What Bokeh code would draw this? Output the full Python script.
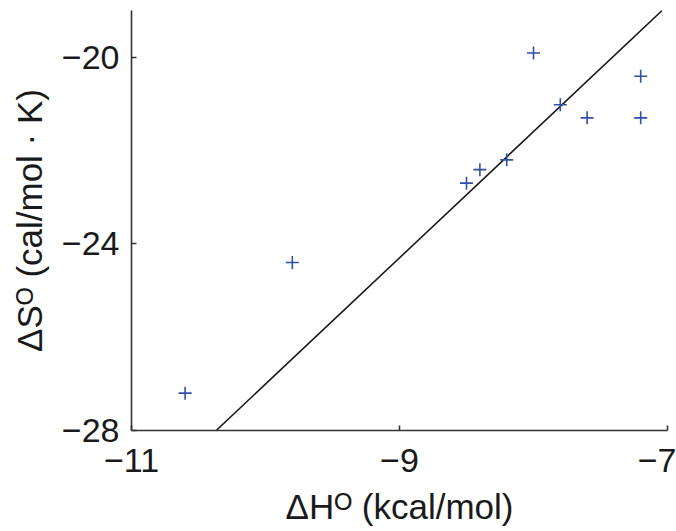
from bokeh.plotting import figure
from bokeh.models import FixedTicker, Range1d
from bokeh.embed import file_html
from bokeh.resources import INLINE

# Data
dH = [-10.60, -9.80, -8.50, -8.40, -8.20, -8.00, -7.80, -7.60, -7.20, -7.20]
dS = [-27.20, -24.40, -22.70, -22.41, -22.20, -19.91, -21.02, -21.30, -21.30, -20.41]

fit_x = [-10.368, -7.04]
fit_y = [-28.0, -19.0]

x_ticks = [-11, -9, -7]
y_ticks = [-28, -24, -20]
x_labels = {-11: "\u221211", -9: "\u22129", -7: "\u22127"}
y_labels = {-28: "\u221228", -24: "\u221224", -20: "\u221220"}

FONT = "Liberation Sans"

p = figure(width=676, height=531, output_backend="svg", toolbar_location=None,
           x_range=Range1d(-11, -7), y_range=Range1d(-28, -19),
           min_border_left=131, min_border_right=9, min_border_top=10, min_border_bottom=101)
p.outline_line_color = None
p.grid.visible = False
p.background_fill_color = "white"
p.border_fill_color = "white"

p.line(fit_x, fit_y, line_color="#1a1a1a", line_width=1.6)
p.scatter(dH, dS, marker="cross", size=13, line_color="#3050a8", line_width=1.6)

for ax, ticks, labels in ((p.xaxis[0], x_ticks, x_labels), (p.yaxis[0], y_ticks, y_labels)):
    ax.ticker = FixedTicker(ticks=ticks)
    ax.major_label_overrides = labels
    ax.minor_tick_line_color = None
    ax.major_tick_in = 5
    ax.major_tick_out = 0
    ax.axis_line_color = "#333333"
    ax.axis_line_width = 1.6
    ax.major_tick_line_color = "#333333"
    ax.major_tick_line_width = 1.6
    ax.major_label_text_font = FONT
    ax.major_label_text_font_size = "34px"
    ax.major_label_text_color = "#1a1a1a"
    ax.axis_label_text_font = FONT
    ax.axis_label_text_font_size = "35px"
    ax.axis_label_text_font_style = "normal"
    ax.axis_label_text_color = "#1a1a1a"

p.xaxis.axis_label = "\u0394H\u1d3c (kcal/mol)"
p.yaxis.axis_label = "\u0394S\u1d3c (cal/mol \u00b7 K)"
p.xaxis.major_label_standoff = 18
p.yaxis.major_label_standoff = 12
p.xaxis.axis_label_standoff = 12
p.yaxis.axis_label_standoff = 10

open("out.html", "w").write(file_html(p, INLINE))
